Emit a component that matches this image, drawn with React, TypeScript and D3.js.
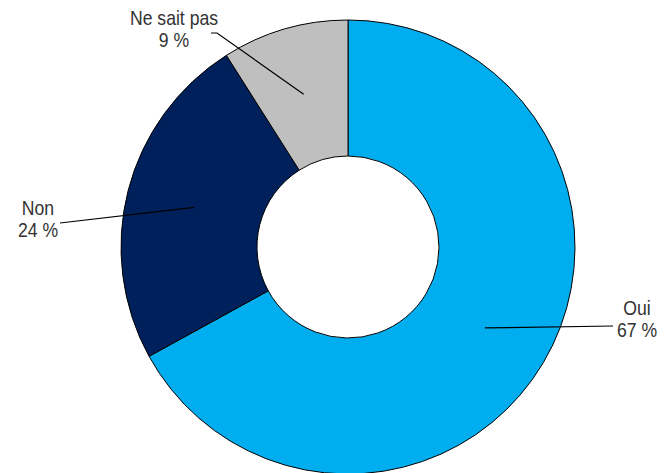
import React from "react";
import * as d3 from "d3";

const categories = ["Oui", "Non", "Ne sait pas"];
const values = [67, 24, 9];
const valueLabels = ["67 %", "24 %", "9 %"];
const colors = ["#00AEEF", "#00205B", "#BFBFBF"];

// label layout: anchor position of text and leader line end
const labelLayout = [
  { x: 637, y: 315, end: [[613, 326]] },
  { x: 38, y: 215, end: [[60, 223]] },
  { x: 174, y: 25, end: [[217, 33], [211, 33]] },
];

export default function App() {
  const W = 667, H = 473;
  const cx = 348, cy = 247;
  const R = 227, r = 91;
  const pie = d3.pie<number>().sort(null).value((d) => d)(values);
  const arc = d3.arc<d3.PieArcDatum<number>>().innerRadius(r).outerRadius(R);
  const font = "'Liberation Sans', Arial, sans-serif";
  return (
    <svg width={W} height={H} style={{ position: "absolute", left: 0, top: 0 }}>
      <rect width={W} height={H} fill="#fff" />
      <g transform={`translate(${cx},${cy})`}>
        {pie.map((p, i) => (
          <path key={i} d={arc(p) || ""} fill={colors[i]} stroke="#000" strokeWidth={1} />
        ))}
      </g>
      {pie.map((p, i) => {
        const [mx, my] = arc.centroid(p);
        const pts = [[cx + mx, cy + my], ...labelLayout[i].end];
        const line = d3.line()(pts as [number, number][]) || "";
        return <path key={"l" + i} d={line} fill="none" stroke="#000" strokeWidth={1.2} />;
      })}
      {categories.map((c, i) => {
        const L = labelLayout[i];
        return (
          <g key={"t" + i} transform={`translate(${L.x},${L.y}) scale(0.86,1)`}>
            <text textAnchor="middle" fontFamily={font} fontSize={20.5} fill="#333">
              <tspan x={0} y={0}>{c}</tspan>
              <tspan x={0} y={22.5}>{valueLabels[i]}</tspan>
            </text>
          </g>
        );
      })}
    </svg>
  );
}
